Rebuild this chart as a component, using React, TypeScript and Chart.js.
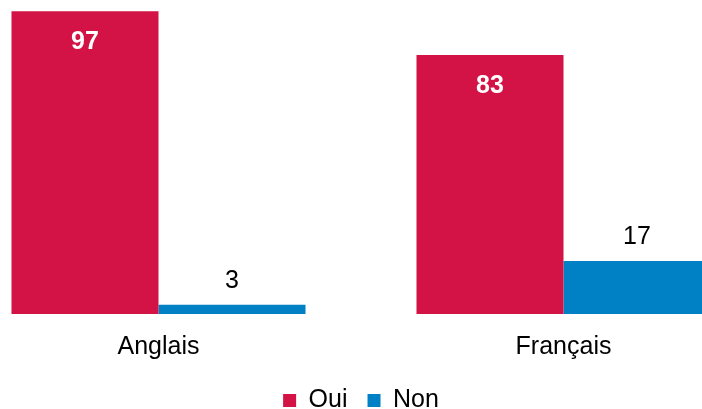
import React, { useEffect, useRef } from "react";
import { Chart, registerables } from "chart.js";

Chart.register(...registerables);

const categories = ["Anglais", "Français"];
const seriesNames = ["Oui", "Non"];
const ouiValues = [97, 83];
const nonValues = [3, 17];
const seriesColors = ["#D31245", "#0081C6"];

const FONT = '"Liberation Sans", Arial, Helvetica, sans-serif';

const labelPlugin = {
  id: "barLabels",
  afterDatasetsDraw(chart: any) {
    const ctx = chart.ctx;
    ctx.save();
    ctx.textAlign = "center";
    ctx.textBaseline = "alphabetic";
    chart.data.datasets.forEach((ds: any, di: number) => {
      const meta = chart.getDatasetMeta(di);
      meta.data.forEach((bar: any, i: number) => {
        const v = ds.data[i];
        if (di === 0) {
          ctx.font = `bold 25px ${FONT}`;
          ctx.fillStyle = "#ffffff";
          ctx.fillText(String(v), bar.x, bar.y + 37.5);
        } else {
          ctx.font = `25px ${FONT}`;
          ctx.fillStyle = "#000000";
          ctx.fillText(String(v), bar.x, bar.y - 17);
        }
      });
    });
    ctx.restore();
  },
};

export default function App() {
  const ref = useRef<HTMLCanvasElement | null>(null);
  useEffect(() => {
    document.body.style.margin = "0";
    document.body.style.overflow = "hidden";
    const canvas = ref.current!;
    const chart = new Chart(canvas, {
      type: "bar",
      data: {
        labels: categories,
        datasets: [
          { label: seriesNames[0], data: ouiValues, backgroundColor: seriesColors[0], borderWidth: 0 },
          { label: seriesNames[1], data: nonValues, backgroundColor: seriesColors[1], borderWidth: 0 },
        ],
      },
      options: {
        animation: false,
        responsive: false,
        devicePixelRatio: 1,
        layout: { padding: { top: 2, bottom: 0, left: 0, right: 0 } },
        scales: {
          x: {
            grid: { display: false },
            border: { display: false },
            ticks: { color: "#000", font: { family: FONT, size: 25 }, padding: 10 },
            afterFit: (scale: any) => {
              scale.height = 54;
            },
          },
          y: {
            display: false,
            min: 0,
            max: 100,
          },
        },
        datasets: {
          bar: { categoryPercentage: 0.726, barPercentage: 1 },
        },
        plugins: {
          legend: {
            position: "bottom",
            labels: {
              color: "#000",
              font: { family: FONT, size: 25 },
              boxWidth: 13,
              boxHeight: 13,
              padding: 20,
            },
          },
          tooltip: { enabled: false },
        },
      } as any,
      plugins: [labelPlugin],
    });
    return () => chart.destroy();
  }, []);
  return (
    <div style={{ position: "relative", width: 702, height: 409, overflow: "hidden", background: "#fff" }}>
      <canvas
        ref={ref}
        width={810}
        height={423}
        style={{ position: "absolute", left: -44, top: 0, width: 810, height: 423 }}
      />
    </div>
  );
}
